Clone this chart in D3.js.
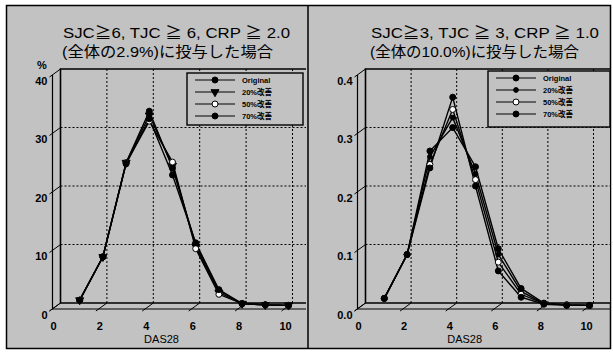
<!DOCTYPE html>
<html>
<head>
<meta charset="utf-8">
<script src="https://cdn.jsdelivr.net/npm/d3@7"></script>
<style>
  body { margin: 0; background: #fff; }
  svg text { font-family: "Liberation Sans", Arial, "Noto Sans CJK JP", sans-serif; fill: #000; }
  .jp { font-family: "Liberation Sans", "Noto Sans CJK JP", sans-serif; }
</style>
</head>
<body>
<div id="chart"></div>
<script>
// DAS28 classes on the x axis
const das = [1, 2, 3, 4, 5, 6, 7, 8, 9, 10];
const seriesNames = ["Original", "20%改善", "50%改善", "70%改善"];

// left panel (%)
const leftOriginal = [1.0, 8.4, 24.5, 33.3, 23.6, 10.6, 2.6, 0.4, 0.2, 0.1];
const left20 = [1.0, 8.4, 24.5, 32.6, 24.0, 10.2, 2.3, 0.4, 0.2, 0.1];
const left50 = [1.0, 8.4, 24.4, 31.6, 24.6, 9.8, 2.0, 0.4, 0.2, 0.1];
const left70 = [1.0, 8.4, 24.3, 32.0, 22.4, 10.8, 2.8, 0.4, 0.2, 0.1];

// right panel (fraction)
const rightOriginal = [0.013, 0.088, 0.265, 0.305, 0.238, 0.098, 0.030, 0.005, 0.002, 0.001];
const right20 = [0.013, 0.088, 0.255, 0.322, 0.226, 0.088, 0.025, 0.004, 0.002, 0.001];
const right50 = [0.013, 0.088, 0.242, 0.336, 0.216, 0.075, 0.020, 0.004, 0.002, 0.001];
const right70 = [0.013, 0.088, 0.236, 0.357, 0.205, 0.060, 0.015, 0.003, 0.001, 0.001];

const xTicks = [0, 2, 4, 6, 8, 10];
const leftYTicks = [0, 10, 20, 30, 40];
const leftYLabels = ["0", "10", "20", "30", "40"];
const rightYTicks = [0, 0.1, 0.2, 0.3, 0.4];
const rightYLabels = ["0.0", "0.1", "0.2", "0.3", "0.4"];

const W = 613, H = 352;
const bg = "#c2c2c2";

const svg = d3.select("#chart").append("svg")
  .attr("width", W).attr("height", H);

svg.append("rect")
  .attr("x", 6.5).attr("y", 5.5).attr("width", 604).attr("height", 343)
  .attr("fill", bg).attr("stroke", "#000").attr("stroke-width", 1.5);

svg.append("line")
  .attr("x1", 308).attr("x2", 308).attr("y1", 5.5).attr("y2", 348.5)
  .attr("stroke", "#000").attr("stroke-width", 1.5);

const markers = {
  circle: d3.symbol().type(d3.symbolCircle).size(28),
  small: d3.symbol().type(d3.symbolCircle).size(18),
  tri: d3.symbol().type(d3.symbolTriangle).size(28)
};

function drawPanel(p) {
  const g = svg.append("g");
  const dx = 8, dy = -6;

  const x = d3.scaleLinear().domain([0, 10]).range([p.fx, p.fx + p.xLen]);
  const y = d3.scaleLinear().domain([0, p.yMax]).range([p.fy, p.fy - 234]);

  // back wall
  const bx = v => x(v) + dx, by = v => y(v) + dy;
  g.append("rect")
    .attr("x", bx(0)).attr("y", by(p.yMax))
    .attr("width", p.right - bx(0)).attr("height", by(0) - by(p.yMax))
    .attr("fill", bg);

  // dotted grid on back wall
  g.selectAll(".hgrid").data(p.yTicks.slice(1, -1)).enter().append("line")
    .attr("x1", bx(0)).attr("x2", p.right)
    .attr("y1", d => by(d)).attr("y2", d => by(d))
    .attr("stroke", "#000").attr("stroke-width", 1).attr("stroke-dasharray", "2,2");
  g.selectAll(".vgrid").data(xTicks.slice(1)).enter().append("line")
    .attr("x1", d => bx(d)).attr("x2", d => bx(d))
    .attr("y1", by(p.yMax)).attr("y2", by(0))
    .attr("stroke", "#000").attr("stroke-width", 1).attr("stroke-dasharray", "2,2");

  // wall frame
  g.append("path")
    .attr("d", `M${p.right},${by(p.yMax)}H${bx(0)}V${by(0)}H${p.right}`)
    .attr("fill", "none").attr("stroke", "#000").attr("stroke-width", 1.6);

  // front axes
  g.append("path")
    .attr("d", `M${x(0)},${y(p.yMax)}V${y(0)}H${p.right}`)
    .attr("fill", "none").attr("stroke", "#000").attr("stroke-width", 1.2);

  // slanted ticks
  g.selectAll(".ytick").data(p.yTicks).enter().append("line")
    .attr("x1", x(0) - 3).attr("y1", d => y(d) + 2)
    .attr("x2", bx(0)).attr("y2", d => by(d))
    .attr("stroke", "#000").attr("stroke-width", 1);
  g.selectAll(".xtick").data(xTicks).enter().append("line")
    .attr("x1", d => x(d) - 3).attr("y1", y(0) + 2)
    .attr("x2", d => bx(d)).attr("y2", by(0))
    .attr("stroke", "#000").attr("stroke-width", 1);

  // tick labels
  g.selectAll(".ylab").data(p.yTicks).enter().append("text")
    .attr("x", x(0) - 5).attr("y", d => y(d) + 9.5)
    .attr("text-anchor", "end").attr("font-size", 11).attr("font-weight", "bold")
    .text((d, i) => p.yLabels[i]);
  g.selectAll(".xlab").data(xTicks).enter().append("text")
    .attr("x", d => x(d) + 1).attr("y", 330)
    .attr("text-anchor", "middle").attr("font-size", 11).attr("font-weight", "bold")
    .text(d => d);
  g.append("text")
    .attr("x", x(4.7)).attr("y", 343)
    .attr("text-anchor", "middle").attr("font-size", 11)
    .text("DAS28");
  if (p.unit) {
    g.append("text").attr("x", 37).attr("y", 69)
      .attr("font-size", 11).attr("font-weight", "bold").text(p.unit);
  }

  // titles
  g.append("text").attr("x", p.titleX).attr("y", 38)
    .attr("font-size", 15).attr("textLength", p.t1Len).attr("lengthAdjust", "spacingAndGlyphs")
    .text(p.title1);
  g.append("text").attr("class", "jp").attr("x", p.titleX - 1).attr("y", 57)
    .attr("font-size", 15).attr("textLength", p.t2Len).attr("lengthAdjust", "spacingAndGlyphs")
    .text(p.title2);

  // data on the middle plane
  const mx = v => x(v) + dx / 2, my = v => y(v) + dy / 2;
  const line = d3.line().x((d, i) => mx(das[i])).y(d => my(d));
  p.series.forEach((s, k) => {
    g.append("path").datum(s).attr("d", line)
      .attr("fill", "none").attr("stroke", "#000").attr("stroke-width", 1.4);
  });
  p.series.forEach((s, k) => {
    g.selectAll(".m" + k).data(s).enter().append("path")
      .attr("d", p.marks[k].sym)
      .attr("transform", (d, i) => `translate(${mx(das[i])},${my(d)})${p.marks[k].rot ? " rotate(180)" : ""}`)
      .attr("fill", p.marks[k].fill).attr("stroke", "#000").attr("stroke-width", 1);
  });

  // legend
  const L = p.legend;
  g.append("rect").attr("x", L.x).attr("y", L.y).attr("width", L.w).attr("height", L.h)
    .attr("fill", bg).attr("stroke", "#000").attr("stroke-width", 1.4);
  seriesNames.forEach((name, k) => {
    const ry = L.y + 7 + k * 12;
    g.append("line").attr("x1", L.x + 8).attr("x2", L.x + 48).attr("y1", ry).attr("y2", ry)
      .attr("stroke", "#000").attr("stroke-width", 1);
    g.append("path").attr("d", p.marks[k].sym)
      .attr("transform", `translate(${L.x + 28},${ry})${p.marks[k].rot ? " rotate(180)" : ""}`)
      .attr("fill", p.marks[k].fill).attr("stroke", "#000").attr("stroke-width", 1);
    g.append("text").attr("class", "jp").attr("x", L.x + 55).attr("y", ry + 3)
      .attr("font-size", 7.5).attr("font-weight", "bold").text(name);
  });
}

drawPanel({
  fx: 52.5, fy: 309, xLen: 232, yMax: 40, right: 306,
  yTicks: leftYTicks, yLabels: leftYLabels, unit: "%",
  titleX: 63, t1Len: 227, t2Len: 211,
  title1: "SJC≧6, TJC ≧ 6, CRP ≧ 2.0",
  title2: "(全体の2.9%)に投与した場合",
  series: [leftOriginal, left20, left50, left70],
  marks: [
    { sym: markers.circle, fill: "#000" },
    { sym: markers.tri, fill: "#000", rot: true },
    { sym: markers.circle, fill: "#fff" },
    { sym: markers.circle, fill: "#000" }
  ],
  legend: { x: 187, y: 73, w: 116, h: 52 }
});

drawPanel({
  fx: 357.5, fy: 309, xLen: 228, yMax: 0.4, right: 610,
  yTicks: rightYTicks, yLabels: rightYLabels, unit: null,
  titleX: 371, t1Len: 228, t2Len: 209,
  title1: "SJC≧3, TJC ≧ 3, CRP ≧ 1.0",
  title2: "(全体の10.0%)に投与した場合",
  series: [rightOriginal, right20, right50, right70],
  marks: [
    { sym: markers.circle, fill: "#000" },
    { sym: markers.small, fill: "#000" },
    { sym: markers.circle, fill: "#fff" },
    { sym: markers.circle, fill: "#000" }
  ],
  legend: { x: 488, y: 71, w: 122, h: 56 }
});
</script>
</body>
</html>
